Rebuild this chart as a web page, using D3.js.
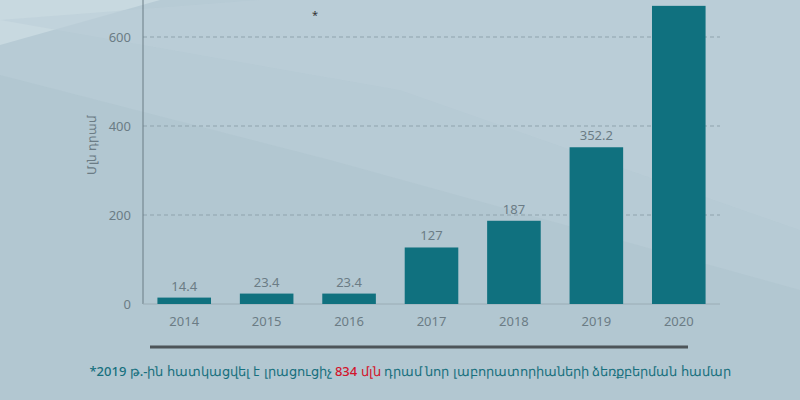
<!DOCTYPE html>
<html><head><meta charset="utf-8">
<script src="https://cdn.jsdelivr.net/npm/d3@7"></script>
<style>body{margin:0;}svg{display:block;font-family:"Noto Sans",Lato,sans-serif;}</style>
</head><body><div id="c"></div>
<script>
var YEARS = ["2014","2015","2016","2017","2018","2019","2020"];
var VALUES = [14.4, 23.4, 23.4, 127, 187, 352.2, 670];
var LABELS = ["14.4","23.4","23.4","127","187","352.2",""];
var TICKS = [0, 200, 400, 600];

var W = 800, H = 400;
var svg = d3.select("#c").append("svg").attr("width", W).attr("height", H);
// background with soft diagonal shapes
svg.append("rect").attr("width", W).attr("height", H).attr("fill", "#b7cbd5");
svg.append("polygon").attr("points", "0,0 160,0 0,45").attr("fill", "#c8d9e0");
svg.append("polygon").attr("points", "0,75 330,160 800,290 800,400 0,400").attr("fill", "#aec3ce").attr("opacity", 0.5);
svg.append("polygon").attr("points", "0,20 260,0 800,0 800,230 400,90").attr("fill", "#bccfd8").attr("opacity", 0.6);

var m = { l: 143 };
var x = d3.scaleBand().domain(YEARS).range([m.l, 720]).paddingInner(0.35).paddingOuter(0.175);
var y = d3.scaleLinear().domain([0, 600]).range([304, 37]);

TICKS.forEach(function (t) {
  if (t > 0) svg.append("line").attr("x1", m.l).attr("x2", 720).attr("y1", y(t)).attr("y2", y(t))
    .attr("stroke", "#8fa3ad").attr("stroke-dasharray", "4,3");
  svg.append("text").attr("x", m.l - 12).attr("y", y(t) + 5).attr("text-anchor", "end")
    .attr("fill", "#6b7c85").style("font-size", "13px").text(t);
});
svg.append("line").attr("x1", m.l).attr("x2", m.l).attr("y1", 0).attr("y2", 304).attr("stroke", "#6b7c85");
svg.append("line").attr("x1", m.l).attr("x2", 720).attr("y1", 304).attr("y2", 304).attr("stroke", "#9aacb5");

svg.selectAll(".bar").data(VALUES).enter().append("rect")
  .attr("x", function (d, i) { return x(YEARS[i]); }).attr("width", x.bandwidth())
  .attr("y", function (d) { return y(d); }).attr("height", function (d) { return 304 - y(d); })
  .attr("fill", "#10717f");
svg.selectAll(".lab").data(VALUES).enter().append("text")
  .attr("x", function (d, i) { return x(YEARS[i]) + x.bandwidth() / 2; })
  .attr("y", function (d) { return y(d) - 7; }).attr("text-anchor", "middle")
  .attr("fill", "#6b7c85").style("font-size", "13px").text(function (d, i) { return LABELS[i]; });
svg.selectAll(".yr").data(YEARS).enter().append("text")
  .attr("x", function (d) { return x(d) + x.bandwidth() / 2; }).attr("y", 326)
  .attr("text-anchor", "middle").attr("fill", "#6b7c85").style("font-size", "13px").text(function (d) { return d; });

svg.append("text").attr("x", 315).attr("y", 19).attr("text-anchor", "middle").attr("fill", "#333").style("font-size", "11px").text("*");
svg.append("text").attr("transform", "translate(96,145) rotate(-90)").attr("text-anchor", "middle")
  .attr("fill", "#6b7c85").style("font-size", "12px").text("Մլն դրամ");

svg.append("line").attr("x1", 150).attr("x2", 688).attr("y1", 347).attr("y2", 347).attr("stroke", "#4d5559").attr("stroke-width", 3);
var ft = svg.append("text").attr("x", 410).attr("y", 376).attr("text-anchor", "middle")
  .attr("fill", "#17707e").style("font-size", "13px").style("font-weight", "500");
ft.append("tspan").text("*2019 թ.-ին հատկացվել է լրացուցիչ ");
ft.append("tspan").attr("fill", "#d3142c").text("834 մլն");
ft.append("tspan").text(" դրամ նոր լաբորատորիաների ձեռքբերման համար");
</script></body></html>
